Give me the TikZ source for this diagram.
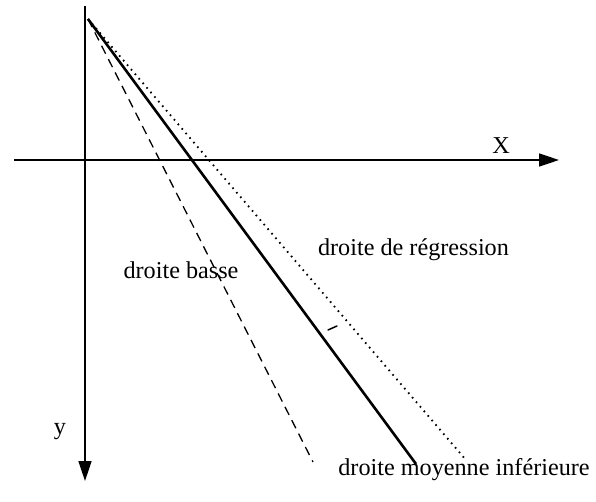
\documentclass[tikz,border=0pt]{standalone}
\usepackage{fontspec}
\setmainfont{Liberation Serif}
\usetikzlibrary{arrows.meta}
\begin{document}
\begin{tikzpicture}[x=1pt,y=-1pt,
  axis/.style={line width=1.6pt,-{Triangle[length=20pt,width=13pt]}},
  lbl/.style={font=\fontsize{24.2}{28}\selectfont,inner sep=0pt},
  lowline/.style={line width=1.3pt,dash pattern=on 9pt off 6pt},
  midline/.style={line width=2.6pt},
  regline/.style={line width=1.8pt,dash pattern=on 1.6pt off 4.4pt}]
\useasboundingbox (0,0) rectangle (596,501);
% axes
\coordinate (ytop) at (85,6);
\coordinate (ybot) at (85,481);
\coordinate (xleft) at (14,160);
\coordinate (xright) at (559,160);
\draw[axis] (ytop) -- (ybot);
\draw[axis] (xleft) -- (xright);
% lines
\coordinate (O) at (88,19);
\coordinate (Elow) at (313,462);
\coordinate (Emid) at (416,464);
\coordinate (Ereg) at (466,460);
\draw[lowline] (O) -- (Elow);
\draw[regline] (O) -- (Ereg);
\draw[midline] (O) -- (Emid);
% small mark
\coordinate (m1) at (328,330);
\coordinate (m2) at (337,326);
\draw[line width=1.5pt,line cap=round] (m1) -- (m2);
% labels
\node[lbl] (X) at (501,146) {X};
\node[lbl] (y) at (60,432) {y};
\node[lbl] (basse) at (181,270) {droite basse};
\node[lbl] (reg) at (413.5,250) {droite de régression};
\node[lbl] (moy) at (464,470) {droite moyenne inférieure};
\end{tikzpicture}
\end{document}
